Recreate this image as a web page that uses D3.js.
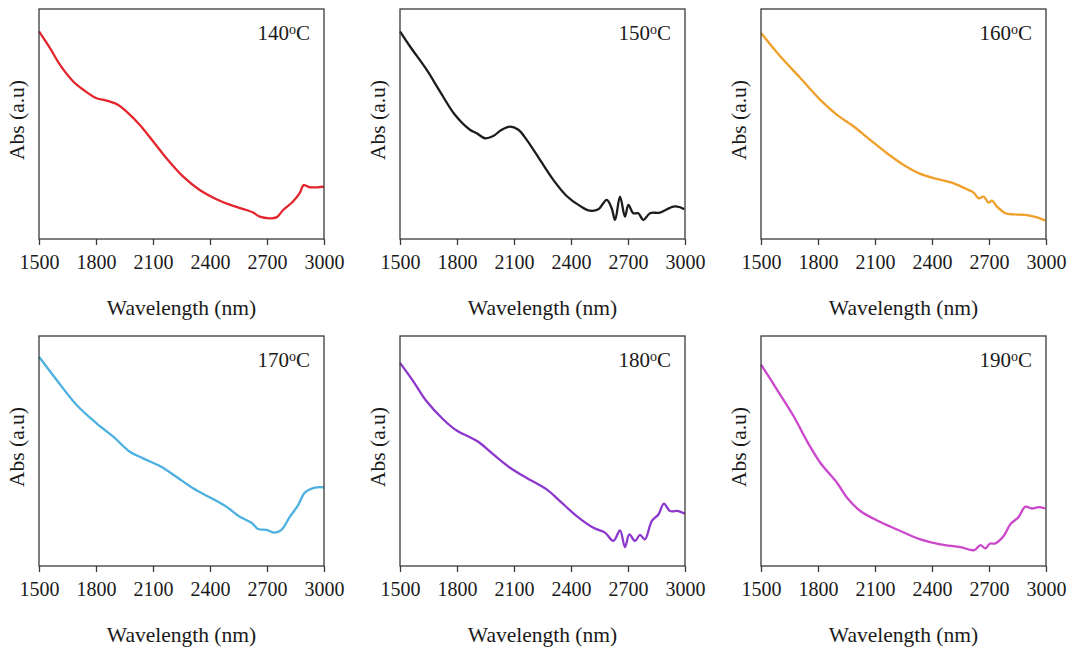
<!DOCTYPE html>
<html>
<head>
<meta charset="utf-8">
<script src="https://cdn.jsdelivr.net/npm/d3@7"></script>
<style>
    body { margin: 0; background: #fff; }
    text { font-family: "Liberation Serif", "DejaVu Serif", serif; fill: #1a1a1a; }
</style>
</head>
<body>
<script>
// absorbance spectra, one panel per synthesis temperature (y is arbitrary units 0..1)

const ticks = [1500, 1800, 2100, 2400, 2700, 3000]

const wl140 = [1500, 1558, 1610, 1680, 1733, 1803, 1856, 1917, 1961, 2031, 2101, 2171, 2259, 2346, 2434, 2522, 2592, 2627, 2662, 2714, 2750, 2785, 2837, 2872, 2893, 2925, 3000]
const abs140 = [0.903, 0.830, 0.758, 0.685, 0.649, 0.612, 0.602, 0.583, 0.554, 0.496, 0.424, 0.351, 0.271, 0.213, 0.173, 0.144, 0.126, 0.115, 0.097, 0.090, 0.094, 0.126, 0.163, 0.199, 0.234, 0.225, 0.228]

const wl150 = [1500, 1553, 1640, 1710, 1789, 1868, 1904, 1947, 1991, 2035, 2079, 2123, 2167, 2237, 2307, 2377, 2447, 2500, 2544, 2588, 2614, 2632, 2658, 2684, 2702, 2728, 2754, 2781, 2816, 2868, 2939, 2974, 2996]
const abs150 = [0.903, 0.837, 0.736, 0.642, 0.540, 0.475, 0.460, 0.438, 0.448, 0.475, 0.489, 0.475, 0.431, 0.344, 0.257, 0.187, 0.144, 0.123, 0.129, 0.170, 0.134, 0.083, 0.184, 0.097, 0.148, 0.112, 0.112, 0.083, 0.112, 0.115, 0.141, 0.138, 0.129]

const wl160 = [1500, 1594, 1707, 1812, 1900, 1988, 2075, 2163, 2251, 2339, 2426, 2514, 2584, 2619, 2645, 2672, 2698, 2716, 2742, 2786, 2830, 2900, 2953, 2996]
const abs160 = [0.896, 0.801, 0.700, 0.605, 0.540, 0.489, 0.431, 0.373, 0.322, 0.283, 0.261, 0.242, 0.216, 0.202, 0.177, 0.184, 0.158, 0.167, 0.141, 0.112, 0.107, 0.104, 0.094, 0.080]

const wl170 = [1500, 1593, 1698, 1803, 1891, 1978, 2048, 2136, 2223, 2311, 2398, 2486, 2557, 2618, 2653, 2697, 2741, 2776, 2820, 2864, 2899, 2952, 3000]
const abs170 = [0.910, 0.809, 0.700, 0.620, 0.562, 0.497, 0.468, 0.435, 0.388, 0.338, 0.299, 0.258, 0.214, 0.188, 0.161, 0.157, 0.145, 0.157, 0.214, 0.265, 0.319, 0.341, 0.342]

const wl180 = [1500, 1570, 1640, 1728, 1798, 1868, 1912, 1991, 2079, 2167, 2272, 2342, 2430, 2518, 2579, 2623, 2658, 2684, 2707, 2737, 2763, 2789, 2825, 2860, 2889, 2921, 2965, 3000]
const abs180 = [0.883, 0.803, 0.716, 0.637, 0.589, 0.560, 0.540, 0.485, 0.427, 0.383, 0.333, 0.282, 0.217, 0.166, 0.145, 0.109, 0.155, 0.082, 0.137, 0.109, 0.135, 0.116, 0.195, 0.224, 0.271, 0.239, 0.239, 0.227]

const wl190 = [1500, 1584, 1672, 1742, 1812, 1900, 1953, 2023, 2111, 2216, 2339, 2444, 2549, 2623, 2655, 2681, 2704, 2733, 2777, 2812, 2856, 2891, 2926, 2961, 2996]
const abs190 = [0.876, 0.767, 0.651, 0.543, 0.449, 0.362, 0.297, 0.239, 0.198, 0.159, 0.116, 0.094, 0.082, 0.069, 0.091, 0.077, 0.097, 0.098, 0.130, 0.181, 0.213, 0.258, 0.250, 0.256, 0.250]

const temps = ["140", "150", "160", "170", "180", "190"]
const colors = ["#e3262d", "#1c1c1c", "#f0a02a", "#4cb0e0", "#8d38cc", "#cb47cb"]
const wls = [wl140, wl150, wl160, wl170, wl180, wl190]
const absVals = [abs140, abs150, abs160, abs170, abs180, abs190]

const width = 1070,
    height = 652
const plotW = 285,
    plotH = 230
const lefts = [39, 400, 761],
    tops = [9, 336]

const svg = d3.select("body").append("svg")
    .attr("width", width)
    .attr("height", height)

const x = d3.scaleLinear().domain([1500, 3000]).range([0, plotW])
const y = d3.scaleLinear().domain([0, 1]).range([plotH, 0])

temps.forEach((t, i) => {
    const g = svg.append("g")
        .attr("transform", `translate(${lefts[i % 3]},${tops[Math.floor(i / 3)]})`)

    const data = wls[i].map((w, j) => ({ w: w, a: absVals[i][j] }))

    g.append("path")
        .datum(data)
        .attr("fill", "none")
        .attr("stroke", colors[i])
        .attr("stroke-width", 2.3)
        .attr("stroke-linejoin", "round")
        .attr("d", d3.line()
            .x((d) => x(d.w))
            .y((d) => y(d.a))
            .curve(d3.curveCatmullRom.alpha(0.5)))

    // frame
    g.append("rect")
        .attr("width", plotW)
        .attr("height", plotH)
        .attr("fill", "none")
        .attr("stroke", "#3a3a3a")
        .attr("stroke-width", 1.3)

    const xAxis = g.append("g")
        .attr("transform", `translate(0,${plotH})`)
        .call(d3.axisBottom(x).tickValues(ticks).tickFormat(d3.format("d")).tickSize(6).tickPadding(10))
    xAxis.select(".domain").remove()
    xAxis.selectAll("line").attr("stroke", "#3a3a3a").attr("stroke-width", 1.3)
    xAxis.selectAll("text")
        .attr("font-size", 20)
        .attr("font-family", "Liberation Serif")
        .attr("fill", "#1a1a1a")

    g.append("text")
        .attr("x", plotW / 2)
        .attr("y", plotH + 76)
        .attr("text-anchor", "middle")
        .attr("font-size", 21.5)
        .text("Wavelength (nm)")

    g.append("text")
        .attr("transform", `translate(-15,${plotH / 2 - 4}) rotate(-90)`)
        .attr("text-anchor", "middle")
        .attr("font-size", 21.5)
        .text("Abs (a.u)")

    const lab = g.append("text")
        .attr("x", plotW - 14)
        .attr("y", 31)
        .attr("text-anchor", "end")
        .attr("font-size", 21)
    lab.append("tspan").text(t)
    lab.append("tspan").attr("font-size", 14).attr("dy", -6).text("o")
    lab.append("tspan").attr("dy", 6).text("C")
})
</script>
</body>
</html>
